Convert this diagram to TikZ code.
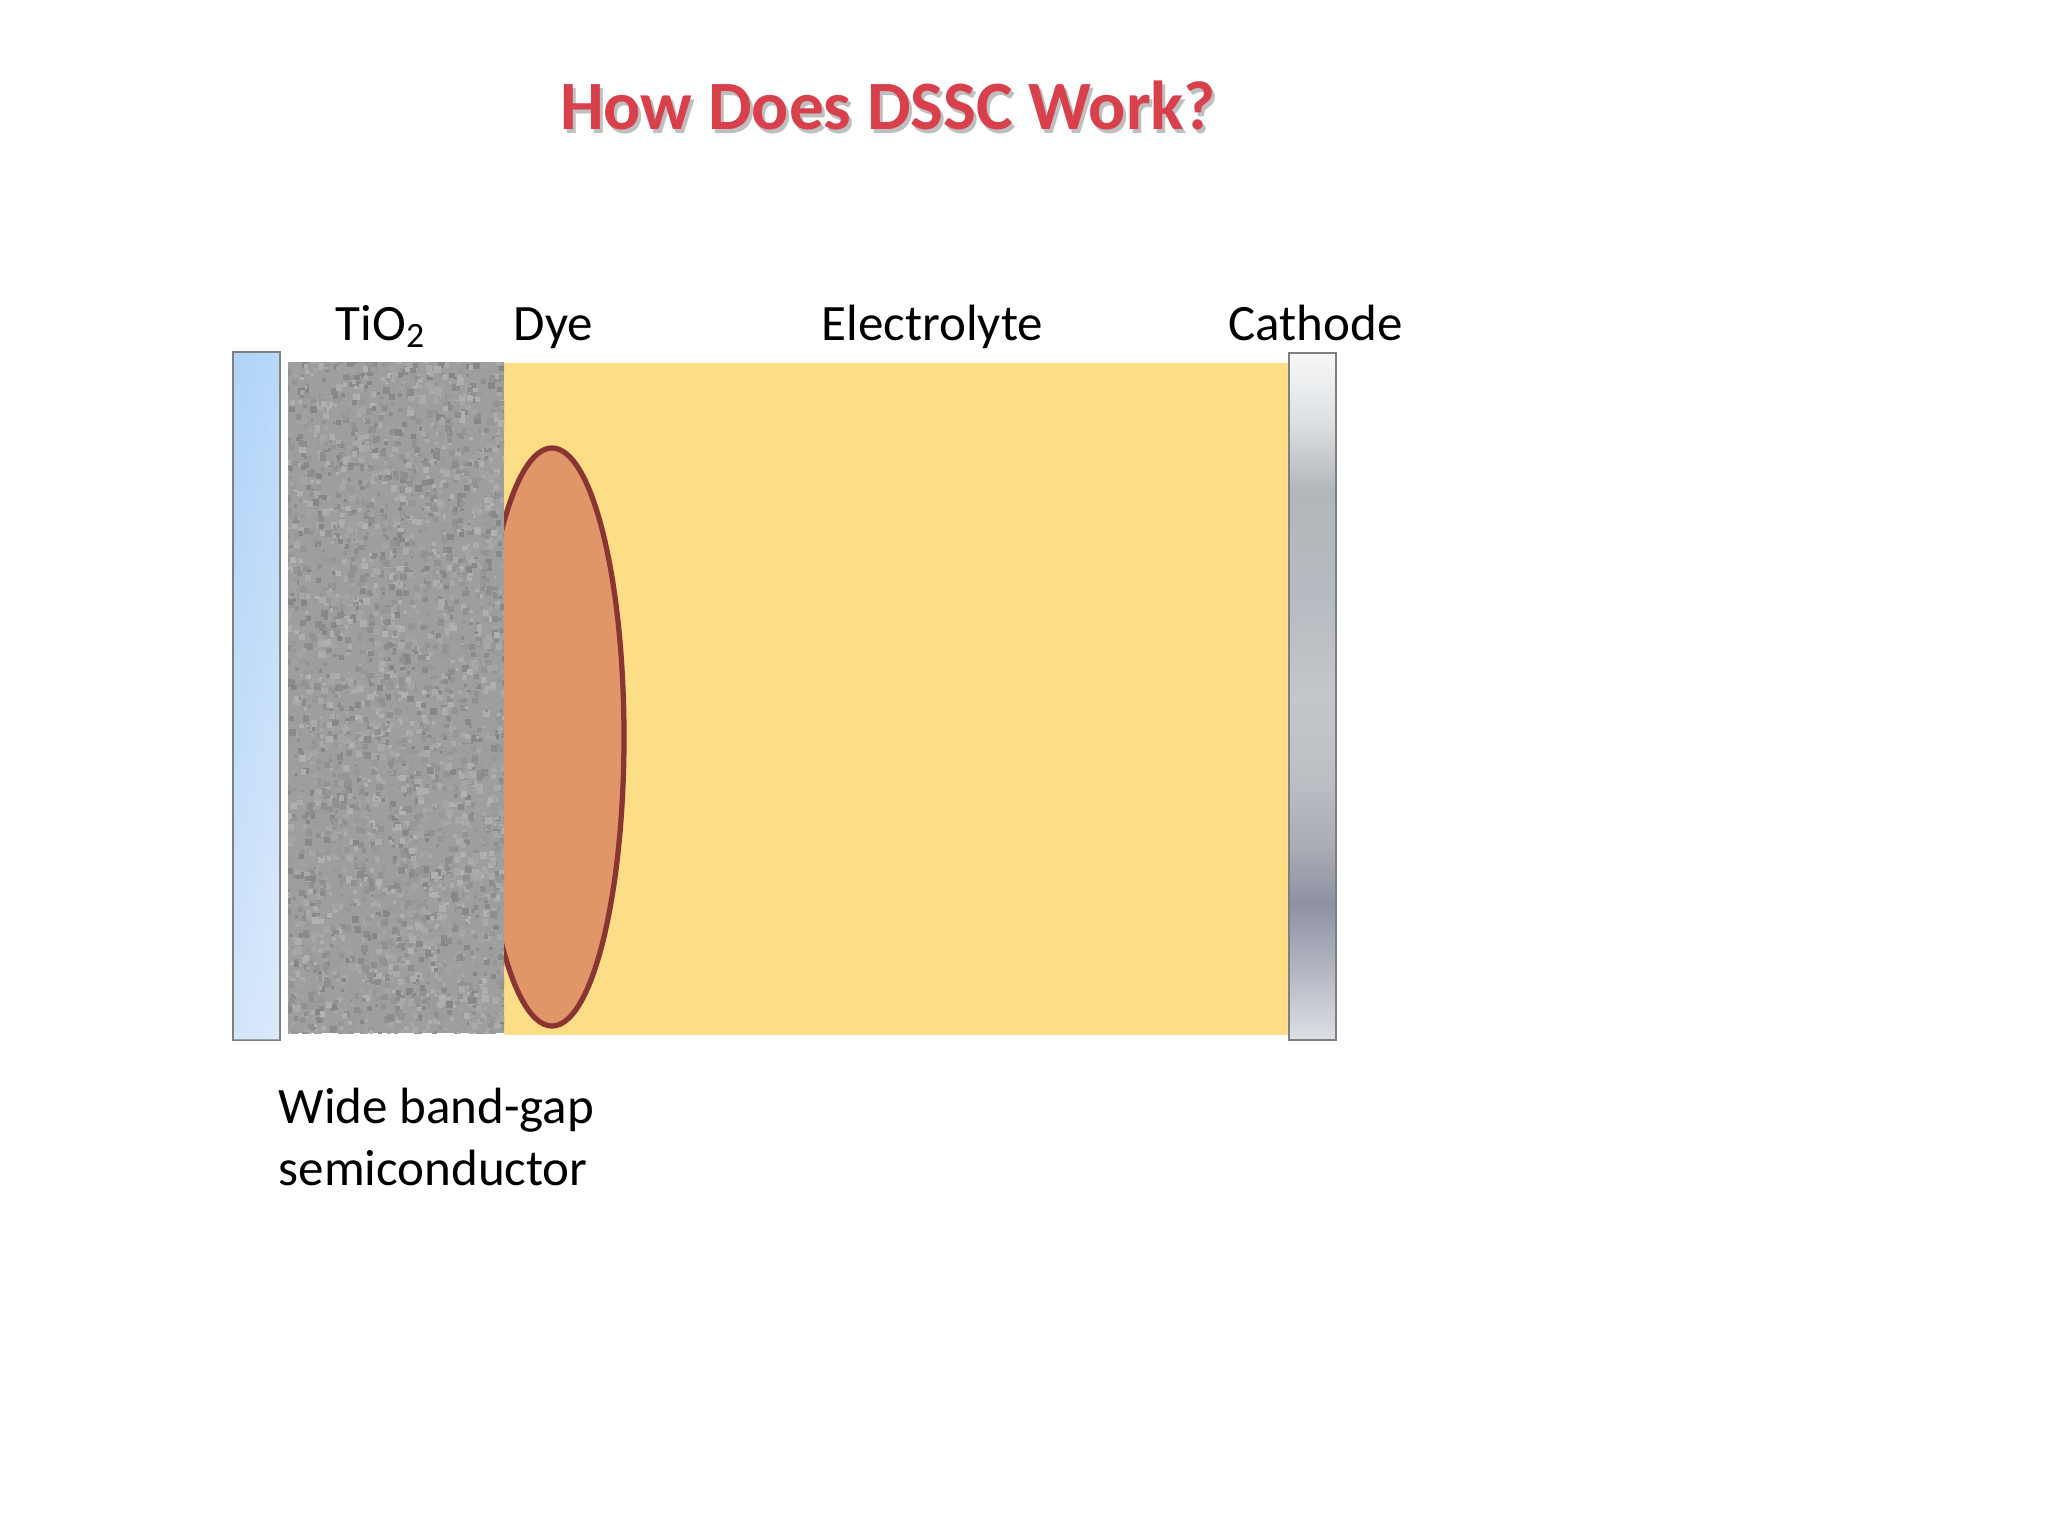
\documentclass[tikz,border=0pt]{standalone}
\usepackage{fontspec}
\setmainfont{Carlito}
\usetikzlibrary{calc}
\definecolor{electro}{HTML}{FDDE87}
\definecolor{dyefill}{HTML}{E1966A}
\definecolor{dyeline}{HTML}{8A3434}
\definecolor{titlered}{HTML}{D8404B}
\definecolor{glasstop}{HTML}{A6CFF8}
\definecolor{glassbot}{HTML}{DCEAFB}
\definecolor{framegray}{HTML}{7F7F7F}
\definecolor{cA}{HTML}{DDE0E4}
\definecolor{cB}{HTML}{A8ABB9}
\definecolor{cC}{HTML}{8E91A3}
\definecolor{cD}{HTML}{A9ACB4}
\definecolor{cE}{HTML}{BCC0C5}
\definecolor{cF}{HTML}{C3C7CB}
\definecolor{cG}{HTML}{B6BBC1}
\definecolor{cH}{HTML}{B2B7BB}
\definecolor{cI}{HTML}{DCE0E3}
\definecolor{cJ}{HTML}{F7F7F8}
\pgfdeclareverticalshading{cathodeshade}{100bp}{%
  color(0bp)=(cA);
  color(25bp)=(cA);
  color(31.5bp)=(cB);
  color(35bp)=(cC);
  color(39bp)=(cD);
  color(44bp)=(cE);
  color(50bp)=(cF);
  color(57.5bp)=(cG);
  color(65bp)=(cH);
  color(70bp)=(cI);
  color(75bp)=(cJ);
  color(100bp)=(cJ)}
\tikzset{
  lbl/.style={anchor=base west, inner sep=0pt, font=\fontsize{14.5}{17.6}\selectfont, text=black},
  ttl/.style={inner sep=0pt, font=\fontsize{19.7}{24}\selectfont\bfseries},
  plate/.style={draw=framegray, line width=0.4pt}
}
\begin{document}
\begin{tikzpicture}[x=0.01cm, y=-0.01cm]
\useasboundingbox (0,0) rectangle (2048,1536);
% electrolyte
\fill[electro] (504,363) rectangle (1289,1035);
% dye
\draw[fill=dyefill, draw=dyeline, line width=1.5pt] (552,737) ellipse [x radius=72, y radius=289];
% TiO2 porous layer
\begin{scope}
\clip (288,362) rectangle (504,1033);
\fill[black!38] (288,362) rectangle (504,1033);
\pgfmathsetseed{7}
\foreach \i in {1,...,4200}{
  \pgfmathsetmacro\xa{280+rnd*230}
  \pgfmathsetmacro\ya{355+rnd*685}
  \pgfmathsetmacro\gg{30+rnd*18}
  \pgfmathsetmacro\ss{2.5+rnd*4.5}
  \fill[black!\gg] (\xa,\ya) rectangle ++(\ss,\ss);
}
\end{scope}
% glass
\shade[plate, top color=glasstop, bottom color=glassbot] (233,352) rectangle (280,1040);
\shade[left color=glasstop!70!white, right color=glassbot, opacity=0.35] (234,353) rectangle (279,1039);
% cathode
\shade[shading=cathodeshade] (1289,353) rectangle (1336,1040);
\draw[plate] (1289,353) rectangle (1336,1040);
% labels
\node[lbl] (tio) at (335,340) {TiO\textsubscript{2}};
\node[lbl] (dye) at (513,340) {Dye};
\node[lbl] (ele) at (821,340) {Electrolyte};
\node[lbl] (cat) at (1228,340) {Cathode};
\node[lbl] (wb1) at (278,1123) {Wide band-gap};
\node[lbl] (wb2) at (278,1185) {semiconductor};
% title
\node[ttl, text=black, opacity=0.25] (ttlsh) at (891,109) {How Does DSSC Work?};
\node[ttl, text=titlered] (ttl) at (888,105) {How Does DSSC Work?};
\end{tikzpicture}
\end{document}
